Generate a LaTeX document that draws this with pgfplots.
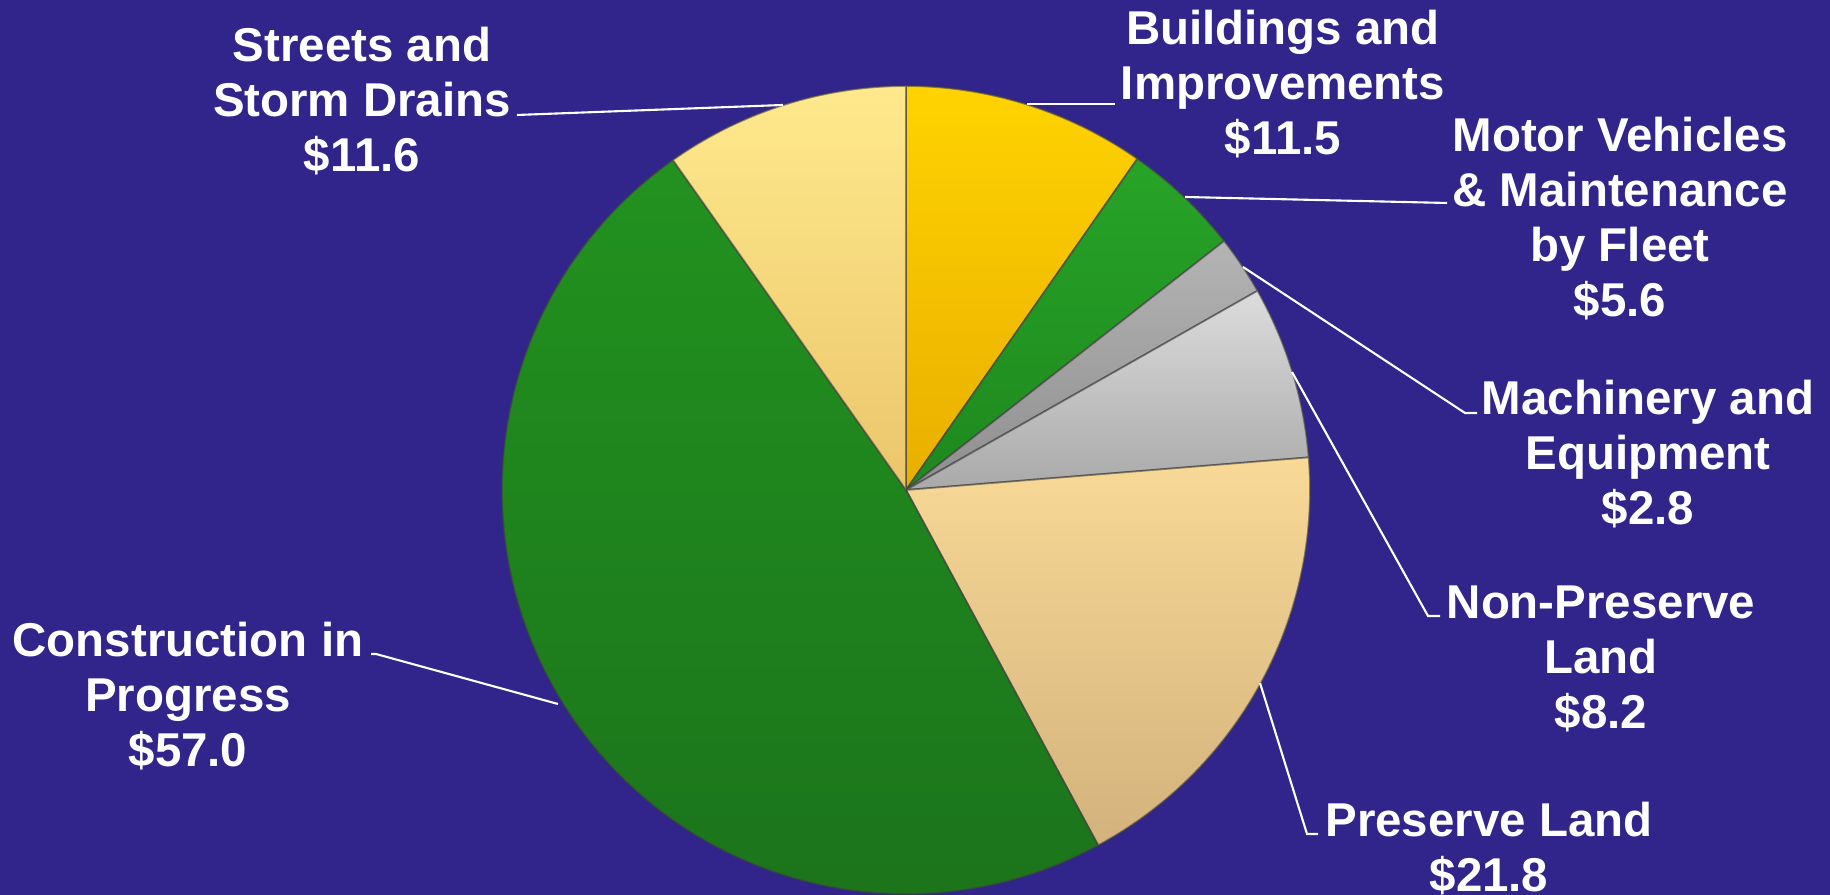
\documentclass[border=0pt]{standalone}
\usepackage{fontspec}
\setmainfont{Liberation Sans}
\usepackage{pgfplots}
\usepackage{pgfplotstable}
\pgfplotsset{compat=1.18}

\definecolor{bgnavy}{HTML}{31248A}
\definecolor{goldA}{HTML}{FFD300}
\definecolor{goldB}{HTML}{E9AE00}
\definecolor{grnA}{HTML}{27A427}
\definecolor{grnB}{HTML}{1E881E}
\definecolor{dgrayA}{HTML}{B4B4B4}
\definecolor{dgrayB}{HTML}{8E8E8E}
\definecolor{silvA}{HTML}{DCDCDC}
\definecolor{silvB}{HTML}{A9A9A9}
\definecolor{tanA}{HTML}{F8D996}
\definecolor{tanB}{HTML}{D3B27C}
\definecolor{cgrnA}{HTML}{22921F}
\definecolor{cgrnB}{HTML}{1B721B}
\definecolor{lyelA}{HTML}{FFE98C}
\definecolor{lyelB}{HTML}{EBC56C}

% capital assets, clockwise from 12 o'clock
\pgfplotstableread{
item value
Buildings 11.5
Motor 5.6
Machinery 2.8
NonPreserve 8.2
Preserve 21.8
Construction 57.0
Streets 11.6
}\piedata

% slice angles from the values
\def\total{0}
\pgfplotsforeachungrouped \i in {0,...,6}{%
  \pgfplotstablegetelem{\i}{value}\of\piedata
  \pgfmathsetmacro\total{\total+\pgfplotsretval}%
}
\def\cum{0}
\pgfplotsforeachungrouped \i in {0,...,6}{%
  \pgfplotstablegetelem{\i}{value}\of\piedata
  \pgfmathsetmacro\a{90-360*(\cum/\total)}%
  \pgfmathsetmacro\cum{\cum+\pgfplotsretval}%
  \pgfmathsetmacro\b{90-360*(\cum/\total)}%
  \expandafter\xdef\csname sa\i\endcsname{\a}%
  \expandafter\xdef\csname sb\i\endcsname{\b}%
}

\newcommand\slice[3]{%
  \path[top color=#2, bottom color=#3, draw=black!75, draw opacity=0.6, line width=0.5pt]
    (axis cs:906,405) -- ([shift={(\csname sa#1\endcsname:4.04cm)}]axis cs:906,405)
    arc[start angle=\csname sa#1\endcsname, end angle=\csname sb#1\endcsname, radius=4.04cm] -- cycle;}

\begin{document}
\begin{tikzpicture}[
  lbl/.style={font=\fontsize{13.5}{15.65}\selectfont\bfseries, text=white,
    align=center, inner sep=0pt},
  lead/.style={draw=white, line width=0.6pt},
]
\begin{axis}[
  hide axis, scale only axis,
  width=18.3cm, height=8.95cm,
  xmin=0, xmax=1830, ymin=0, ymax=895,
  clip=true,
]
\fill[bgnavy] (axis cs:0,0) rectangle (axis cs:1830,895);

\slice{0}{goldA}{goldB}
\slice{1}{grnA}{grnB}
\slice{2}{dgrayA}{dgrayB}
\slice{3}{silvA}{silvB}
\slice{4}{tanA}{tanB}
\slice{5}{cgrnA}{cgrnB}
\slice{6}{lyelA}{lyelB}

% leader lines
\draw[lead] (axis cs:517,780) -- (axis cs:783,790);
\draw[lead] (axis cs:1027,791) -- (axis cs:1115,791);
\draw[lead] (axis cs:1185,698) -- (axis cs:1447,692);
\draw[lead] (axis cs:1243,628) -- (axis cs:1465,482) -- (axis cs:1477,482);
\draw[lead] (axis cs:1292,523) -- (axis cs:1428,279) -- (axis cs:1440,279);
\draw[lead] (axis cs:1260,212) -- (axis cs:1307,61) -- (axis cs:1318,61);
\draw[lead] (axis cs:558,191) -- (axis cs:376,241) -- (axis cs:371,241);

% labels
\node[lbl] at (axis cs:362,794) {Streets and\\Storm Drains\\\$11.6};
\node[lbl] at (axis cs:1283,810.5) {Buildings and\\Improvements\\\$11.5};
\node[lbl] at (axis cs:1620,676.5) {Motor Vehicles\\\& Maintenance\\by Fleet\\\$5.6};
\node[lbl] at (axis cs:1648,441) {Machinery and\\Equipment\\\$2.8};
\node[lbl] at (axis cs:1601,236.5) {Non-Preserve\\Land\\\$8.2};
\node[lbl] at (axis cs:1489,46.5) {Preserve Land\\\$21.8};
\node[lbl] at (axis cs:188,199) {Construction in\\Progress\\\$57.0};
\end{axis}
\pgfresetboundingbox
\useasboundingbox (current axis.south west) rectangle (current axis.north east);
\end{tikzpicture}
\end{document}
